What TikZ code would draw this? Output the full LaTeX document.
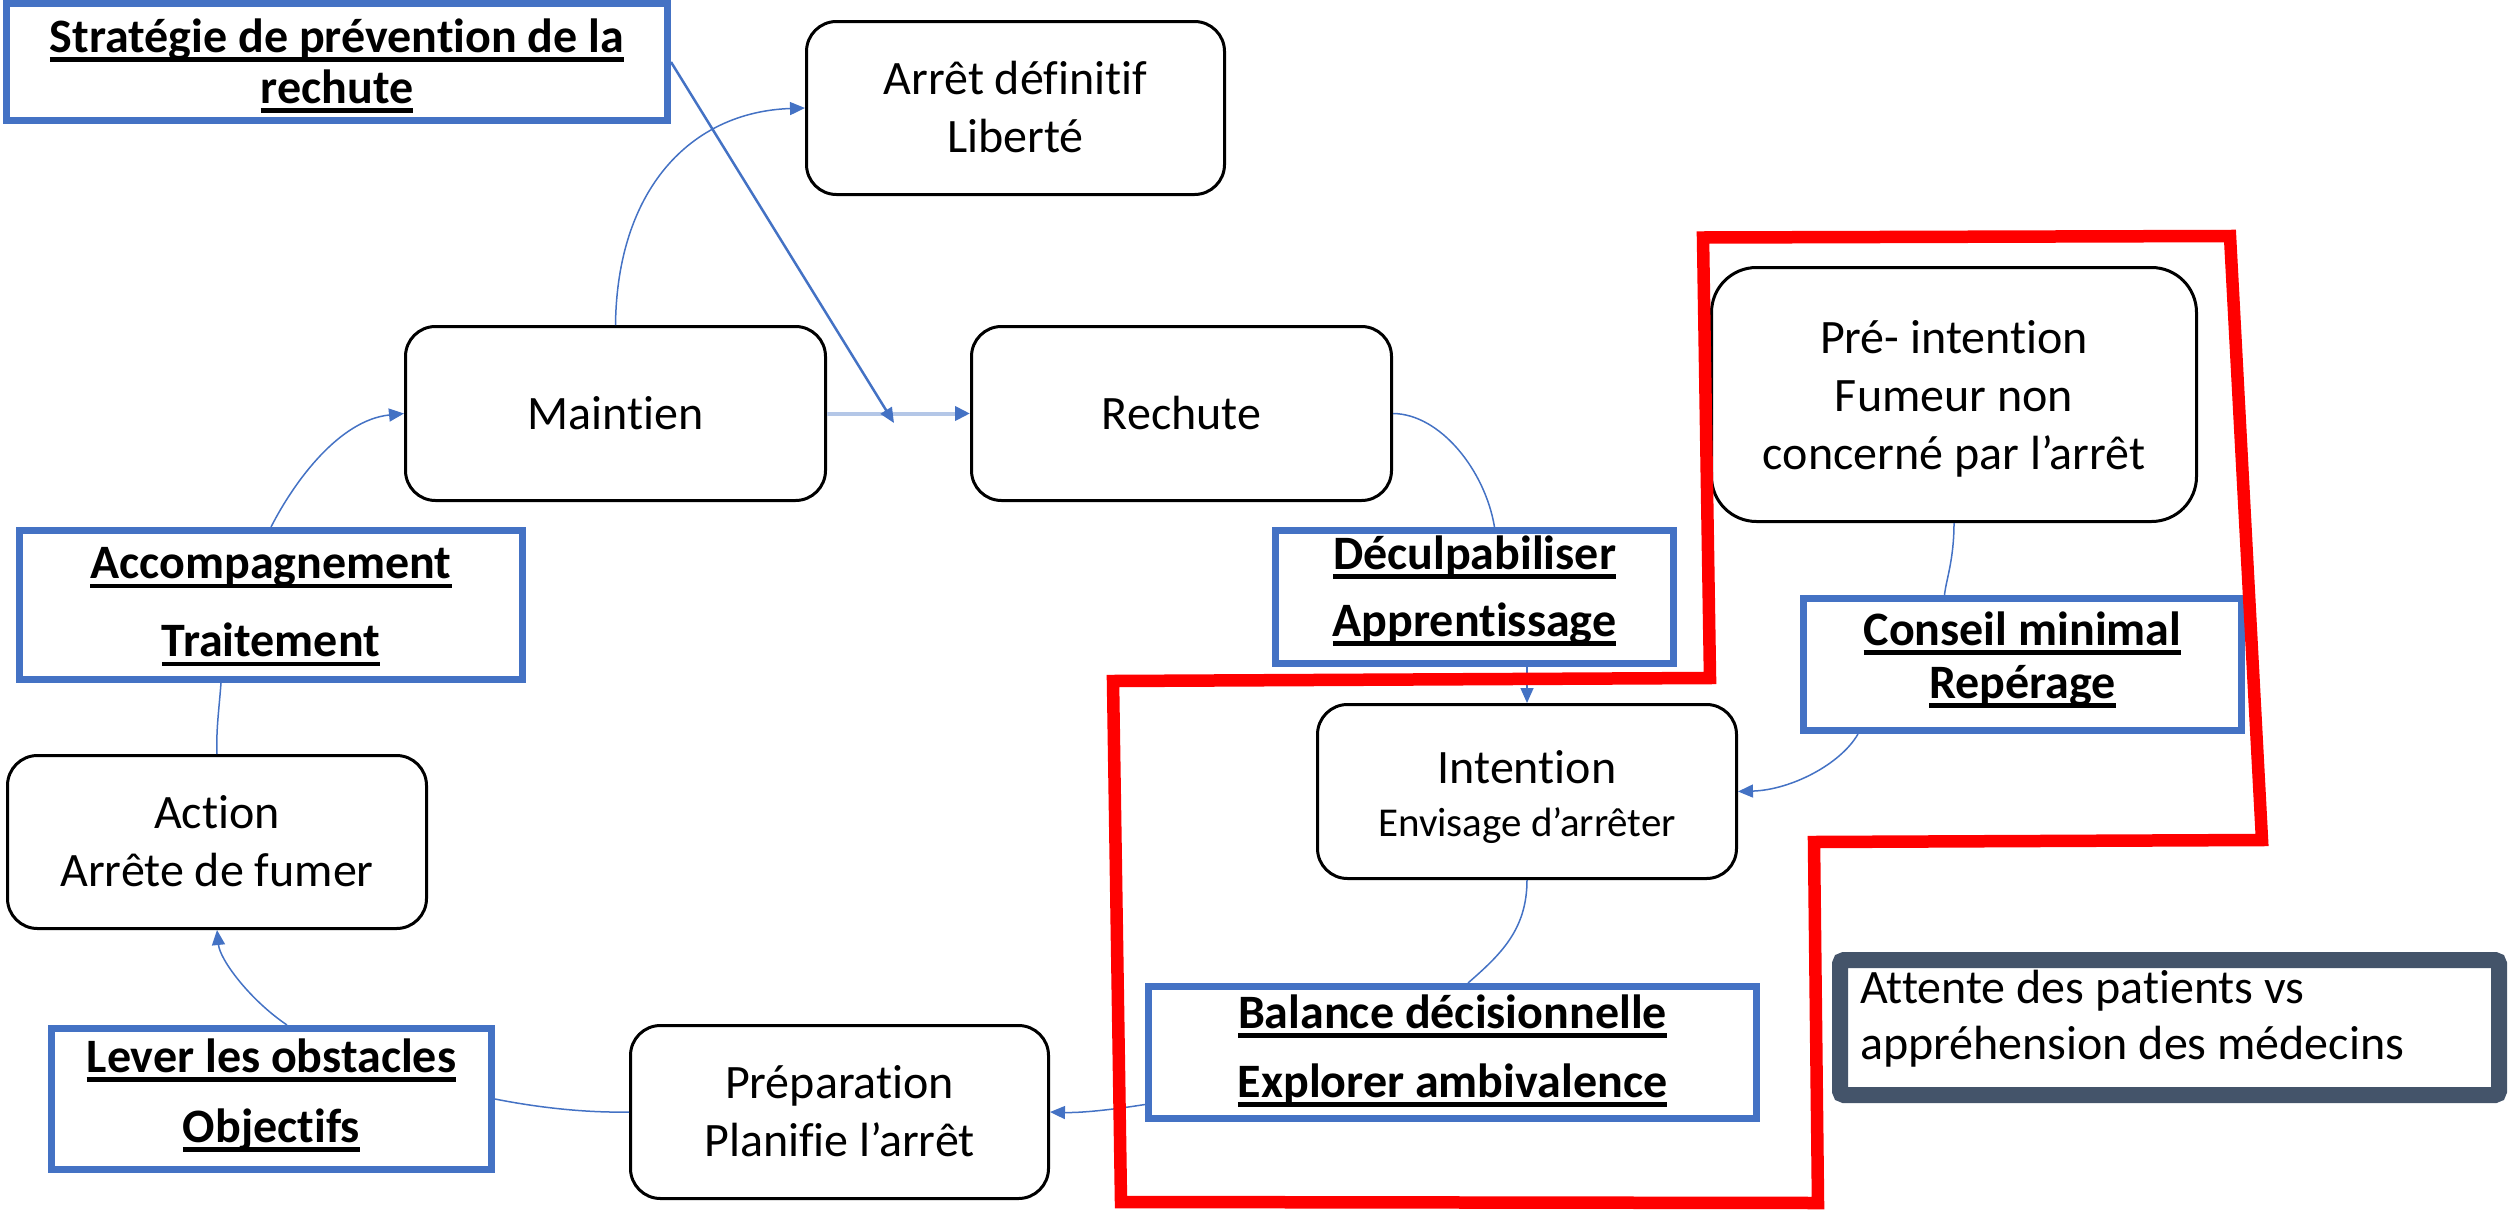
\documentclass[tikz,border=0pt]{standalone}
\usepackage{fontspec}
\setmainfont{Carlito}[Ligatures={NoCommon,NoContextual}]
\usetikzlibrary{arrows.meta}
\definecolor{bblue}{HTML}{4472C4}
\definecolor{lblue}{HTML}{B4C7E7}
\definecolor{slate}{HTML}{44546A}
\newsavebox\ulbox
\newcommand\ulx[1]{\sbox\ulbox{#1}\rlap{\rule[-9.5pt]{\wd\ulbox}{4.5pt}}\usebox\ulbox}
\newcommand\clines[1]{\vtop{\halign{\hfil##\hfil\cr#1\crcr}}}
\newcommand\llines[2]{\hbox to #1{\vtop{\halign{##\hfil\cr#2\crcr}}\hss}}
\begin{document}
\begin{tikzpicture}[x=1pt,y=-1pt,
  stage/.style={draw=black, line width=3pt, rounded corners=30pt, fill=white, inner sep=0pt,
    text height=31pt, font=\fontsize{48}{58}\selectfont},
  tool/.style={draw=bblue, line width=7pt, fill=white, inner sep=0pt, text height=31pt},
  conn/.style={draw=bblue, line width=1.5pt},
  tip/.style={-{Triangle[length=15pt,width=13pt]}},
]
\useasboundingbox (0,0) rectangle (2509,1210);

% stages
\node[stage, minimum width=418pt, minimum height=173pt, text depth=58pt] (arret) at (1015.5,108) {\clines{Arrêt définitif\cr Liberté}};
\node[stage, minimum width=420pt, minimum height=174pt, text depth=0pt] (maint) at (615.5,413.5) {Maintien};
\node[stage, minimum width=420pt, minimum height=174pt, text depth=0pt] (rech) at (1181.5,413.5) {Rechute};
\node[stage, rounded corners=45pt, minimum width=485pt, minimum height=254pt, text depth=114pt] (pre) at (1954,394.5) {\clines{Pré- intention\cr Fumeur non\cr concerné par l’arrêt}};
\node[stage, minimum width=419pt, minimum height=174pt, text depth=48pt, font=\fontsize{48}{53}\selectfont] (int) at (1527,791.5) {\clines{Intention\cr {\fontsize{41}{53}\selectfont Envisage d’arrêter}}};
\node[stage, minimum width=419pt, minimum height=173pt, text depth=58pt] (act) at (217,842) {\clines{Action\cr Arrête de fumer}};
\node[stage, minimum width=418pt, minimum height=173pt, text depth=58pt] (prep) at (839.5,1112) {\clines{Préparation\cr Planifie l’arrêt}};

% tool boxes
\node[tool, minimum width=661pt, minimum height=117pt, text depth=51pt, font=\bfseries\fontsize{48}{51}\selectfont] (strat) at (337,62) {\clines{\ulx{Stratégie de prévention de la}\cr\ulx{rechute}}};
\node[tool, minimum width=503pt, minimum height=149pt, text depth=84pt, font=\bfseries\fontsize{48}{78}\selectfont] (acc) at (271,605) {\clines{\ulx{Accompagnement}\cr\ulx{Traitement}}};
\node[tool, minimum width=440pt, minimum height=141pt, text depth=85pt, font=\bfseries\fontsize{48}{70}\selectfont] (lev) at (271.5,1099) {\clines{\ulx{Lever les obstacles}\cr\ulx{Objectifs}}};
\node[tool, minimum width=398pt, minimum height=133pt, text depth=87pt, font=\bfseries\fontsize{48}{67}\selectfont] (dec) at (1474.5,597) {\clines{\ulx{Déculpabiliser}\cr\ulx{Apprentissage}}};
\node[tool, minimum width=438pt, minimum height=132pt, text depth=70pt, font=\bfseries\fontsize{48}{53}\selectfont] (cons) at (2022.5,664.5) {\clines{\ulx{Conseil minimal}\cr\ulx{Repérage}}};
\node[tool, minimum width=608pt, minimum height=132pt, text depth=80pt, font=\bfseries\fontsize{48}{69}\selectfont] (bal) at (1452.5,1052.5) {\clines{\ulx{Balance décisionnelle}\cr\ulx{Explorer ambivalence}}};

% note box
\node[draw=slate, line width=16pt, rounded corners=4pt, fill=white, minimum width=659pt, minimum height=135pt,
  inner xsep=20pt, inner ysep=0pt, text height=31pt, text depth=80pt,
  font=\fontsize{48}{56}\selectfont] (att) at (2169.5,1027.5) {\llines{619pt}{Attente des patients vs\cr appréhension des médecins}};

% connectors
\coordinate (sx) at (894,423);
\draw[conn,tip] (acc.north) .. controls (295,480) and (340,420) .. (maint.west);
\draw[conn,tip] (maint.north) .. controls (617,190) and (690,112) .. (arret.west);
\draw[line width=4pt, draw=lblue, -{Triangle[length=15pt,width=14pt,color=bblue]}] (maint.east) -- (rech.west);
\draw[line width=2.5pt, draw=bblue, tip] (strat.east) -- (sx);
\draw[conn] (rech.east) .. controls (1440,414) and (1485,470) .. ([xshift=20pt]dec.north);
\draw[conn,tip] (dec.south -| int.north) -- (int.north);
\draw[conn] (pre.south) .. controls (1954,560) and (1946,580) .. ([xshift=-78pt]cons.north);
\draw[conn,tip] ([xshift=-164.5pt]cons.south) .. controls (1840,765) and (1790,790) .. (int.east);
\draw[conn] (int.south) .. controls (1527,930) and (1500,955) .. ([xshift=15.5pt]bal.north);
\draw[conn,tip] ([yshift=-52pt]bal.west) .. controls (1110,1110) and (1080,1113) .. (prep.east);
\draw[conn] (prep.west) .. controls (580,1113) and (530,1106) .. (lev.east);
\draw[conn,tip] ([xshift=15.5pt]lev.north) .. controls (250,1000) and (220,960) .. (act.south);
\draw[conn] ([xshift=-50pt]acc.south) .. controls (219,710) and (216,730) .. (act.north);

% red outline
\draw[red, line width=12.5pt, line join=miter] (1703,237.5) -- (2230,236) -- (2262,840) -- (1814,842) -- (1818,1203) -- (1121,1202) -- (1113,681) -- (1710,678) -- cycle;
\end{tikzpicture}
\end{document}
